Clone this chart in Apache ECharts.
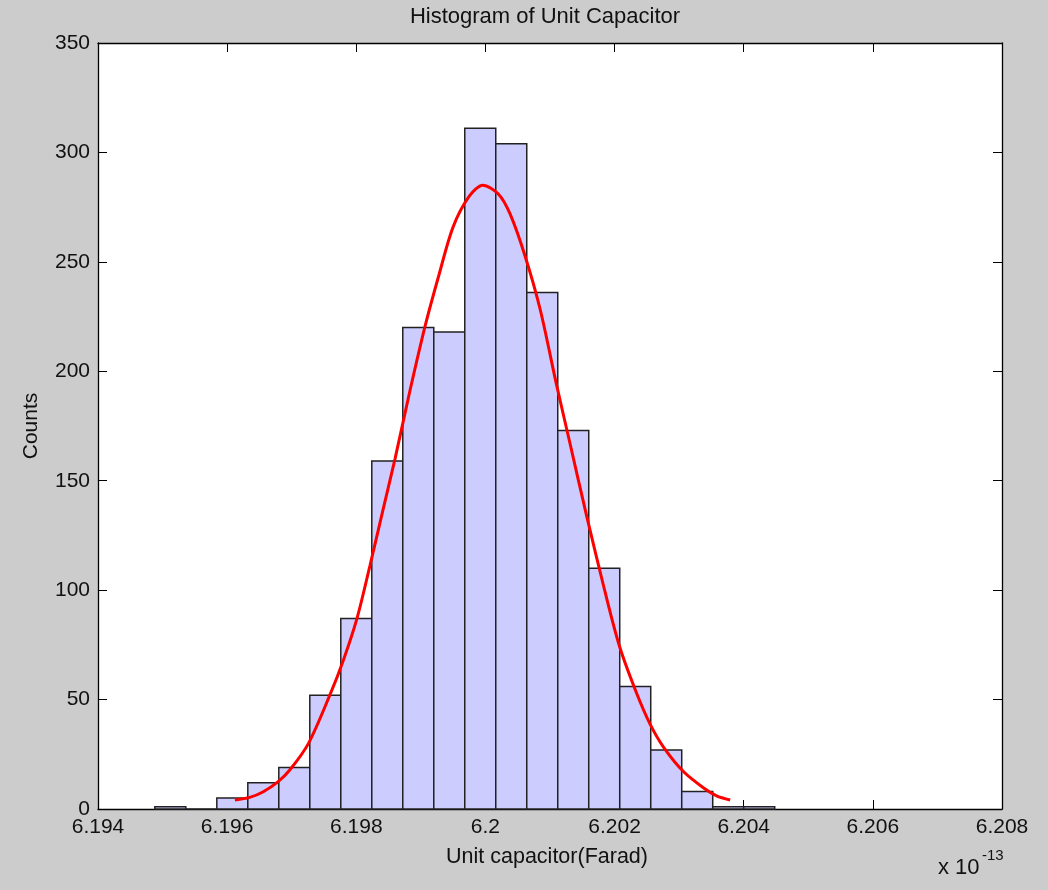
<!DOCTYPE html>
<html>
<head>
<meta charset="utf-8">
<title>Histogram of Unit Capacitor</title>
<script src="https://cdn.jsdelivr.net/npm/echarts@6/dist/echarts.min.js"></script>
<style>
  html, body { margin: 0; padding: 0; background: #cccccc; }
  #chart { width: 1048px; height: 890px; }
</style>
</head>
<body>
<div id="chart"></div>
<script>
// Bin edges of the histogram (units of 1e-13 F)
const binEdges = [
  6.19488, 6.19536, 6.19584, 6.19632, 6.19680, 6.19728, 6.19776,
  6.19824, 6.19872, 6.19920, 6.19968, 6.20016, 6.20064, 6.20112,
  6.20160, 6.20208, 6.20256, 6.20304, 6.20352, 6.20400, 6.20448
];

// Sample counts per bin
const counts = [1, 0, 5, 12, 19, 52, 87, 159, 220, 218, 311, 304, 236, 173, 110, 56, 27, 8, 1, 1];

// Fitted normal curve, sampled as capacitance / counts pairs
const fitX = [
  6.19612, 6.19635, 6.19656, 6.19679, 6.19697, 6.19726, 6.19759, 6.19780,
  6.19801, 6.19821, 6.19840, 6.19860, 6.19883, 6.19906, 6.19928, 6.19950,
  6.19975, 6.19996, 6.20020, 6.20038, 6.20061, 6.20085, 6.20110, 6.20131,
  6.20157, 6.20185, 6.20208, 6.20234, 6.20255, 6.20276, 6.20307, 6.20338,
  6.20358, 6.20379
];
const fitY = [
  4.1, 5.3, 7.9, 12.5, 17.8, 30, 52, 68,
  87, 111, 135, 160, 191, 220, 244, 266,
  280, 285, 281, 272, 253, 228, 194, 167,
  133.6, 99.5, 74, 53, 38.8, 28.2, 17, 9.6,
  6, 4.1
];

const xRange = [6.194, 6.208];
const xStep = 0.002;
const yRange = [0, 350];
const yStep = 50;

const titleText = 'Histogram of Unit Capacitor';
const xLabelText = 'Unit capacitor(Farad)';
const yLabelText = 'Counts';

const FONT = '"Liberation Sans", Arial, sans-serif';
const INK = '#111111';

const chart = echarts.init(document.getElementById('chart'), null, { renderer: 'canvas' });

const histData = counts.map((c, i) => [binEdges[i], binEdges[i + 1], c]);
const fitData = fitX.map((x, i) => [x, fitY[i]]);

const tickStyle = { show: true, inside: true, length: 9, lineStyle: { color: '#000', width: 1 } };
const lineStyle = { show: true, onZero: false, lineStyle: { color: '#000', width: 1.3 } };
const xFmt = v => String(+Number(v).toFixed(3));

const option = {
  backgroundColor: '#cccccc',
  animation: false,
  grid: {
    left: 98, right: 46, top: 43, bottom: 81,
    show: true, backgroundColor: '#ffffff', borderWidth: 0
  },
  xAxis: [
    {
      type: 'value', position: 'bottom', min: xRange[0], max: xRange[1], interval: xStep,
      axisLine: lineStyle, axisTick: tickStyle, splitLine: { show: false },
      axisLabel: { formatter: xFmt, color: INK, fontFamily: FONT, fontSize: 21, margin: 8 }
    },
    {
      type: 'value', position: 'top', min: xRange[0], max: xRange[1], interval: xStep,
      axisLine: lineStyle, axisTick: tickStyle, splitLine: { show: false },
      axisLabel: { show: false }
    }
  ],
  yAxis: [
    {
      type: 'value', position: 'left', min: yRange[0], max: yRange[1], interval: yStep,
      axisLine: lineStyle, axisTick: tickStyle, splitLine: { show: false },
      axisLabel: { color: INK, fontFamily: FONT, fontSize: 21, margin: 8 }
    },
    {
      type: 'value', position: 'right', min: yRange[0], max: yRange[1], interval: yStep,
      axisLine: lineStyle, axisTick: tickStyle, splitLine: { show: false },
      axisLabel: { show: false }
    }
  ],
  graphic: [
    {
      type: 'text', x: 545, y: 17,
      style: { text: titleText, font: '22px ' + FONT, fill: INK, align: 'center', verticalAlign: 'middle' }
    },
    {
      type: 'text', x: 547, y: 857,
      style: { text: xLabelText, font: '21.5px ' + FONT, fill: INK, align: 'center', verticalAlign: 'middle' }
    },
    {
      type: 'text', x: 31, y: 426, rotation: Math.PI / 2,
      style: { text: yLabelText, font: '21px ' + FONT, fill: INK, align: 'center', verticalAlign: 'middle' }
    },
    {
      type: 'text', x: 938, y: 868,
      style: { text: 'x 10', font: '22px ' + FONT, fill: INK, align: 'left', verticalAlign: 'middle' }
    },
    {
      type: 'text', x: 982, y: 856,
      style: { text: '-13', font: '15px ' + FONT, fill: INK, align: 'left', verticalAlign: 'middle' }
    }
  ],
  series: [
    {
      type: 'custom',
      xAxisIndex: 0, yAxisIndex: 0,
      data: histData,
      encode: { x: [0, 1], y: 2 },
      renderItem: function (params, api) {
        const p0 = api.coord([api.value(0), api.value(2)]);
        const p1 = api.coord([api.value(1), 0]);
        return {
          type: 'rect',
          shape: { x: p0[0], y: p0[1], width: p1[0] - p0[0], height: p1[1] - p0[1] },
          style: { fill: '#ccccff', stroke: '#222222', lineWidth: 1.5 }
        };
      },
      z: 2
    },
    {
      type: 'line',
      xAxisIndex: 0, yAxisIndex: 0,
      data: fitData,
      smooth: 0.3,
      showSymbol: false,
      symbol: 'none',
      lineStyle: { color: '#ff0000', width: 3 },
      z: 3
    }
  ]
};

chart.setOption(option);
</script>
</body>
</html>
